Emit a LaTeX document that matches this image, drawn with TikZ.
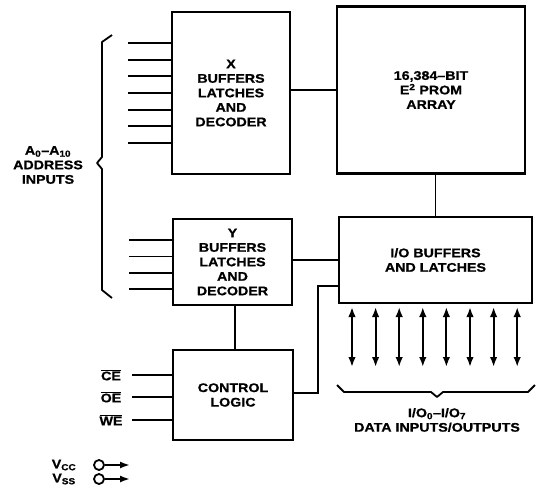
\documentclass[tikz,border=0pt]{standalone}
\usepackage{fontspec}
\setmainfont{Liberation Sans}[FakeStretch=1.14, BoldFeatures={FakeBold=0.8}]
\usetikzlibrary{arrows.meta, calc}
\tikzset{
  lbl/.style={font=\bfseries\fontsize{12.5}{14.5}\selectfont, align=center, inner sep=0pt},
  blockbox/.style={rectangle, draw, line width=2.6pt, lbl},
  wireline/.style={draw, line width=1.8pt},
  pinline/.style={draw, line width=1.8pt},
  braceline/.style={draw, line width=1.8pt, line join=round},
  dataline/.style={
    draw, line width=2pt, {Latex[length=10pt, width=7.5pt]}-{Latex[length=10pt, width=7.5pt]}
  },
  powerline/.style={draw, line width=1.8pt, -{Latex[length=10pt, width=7pt]}},
  pinhole/.style={circle, draw, line width=1.8pt, minimum size=10pt, inner sep=0pt}
}
\begin{document}
\begin{tikzpicture}[x=1pt, y=-1pt]
  \useasboundingbox (0,0) rectangle (542,499);

  \node[blockbox, minimum width=118pt, minimum height=162pt] (xdec) at (231,93)
    {X\\BUFFERS\\LATCHES\\AND\\DECODER};
  \node[blockbox, minimum width=188pt, minimum height=167pt] (array) at (431,90)
    {16,384–BIT\\E\textsuperscript{2} PROM\\ARRAY};
  \node[blockbox, minimum width=119pt, minimum height=86pt] (ydec) at (232.5,262)
    {Y\\BUFFERS\\LATCHES\\AND\\DECODER};
  \node[blockbox, minimum width=193pt, minimum height=86pt] (iobuf) at (435.5,260)
    {I/O BUFFERS\\AND LATCHES};
  \node[blockbox, minimum width=120pt, minimum height=90pt] (ctrl) at (233,395)
    {CONTROL\\LOGIC};

  \node[lbl] (addr) at (48,165) {A\textsubscript{0}–A\textsubscript{10}\\ADDRESS\\INPUTS};
  \node[lbl] (ce) at (111,375) {$\overline{\mbox{CE}}$};
  \node[lbl] (oe) at (111,397) {$\overline{\mbox{OE}}$};
  \node[lbl] (we) at (111,420) {$\overline{\mbox{WE}}$};
  \node[lbl] (dataio) at (437,420) {I/O\textsubscript{0}–I/O\textsubscript{7}\\DATA INPUTS/OUTPUTS};
  \node[lbl] (vcc) at (64,465) {V\textsubscript{CC}};
  \node[lbl] (vss) at (64,479) {V\textsubscript{SS}};
  \node[pinhole] (vccpin) at (99,465) {};
  \node[pinhole] (vsspin) at (99,479) {};
  \coordinate (vccend) at (130,465);
  \coordinate (vssend) at (130,479);
  \coordinate (jog) at (318,286);

  \draw[wireline] (xdec.east |- 0,90) -- (array.west |- 0,90);
  \draw[wireline] (iobuf.north |- array.south) -- (iobuf.north);
  \draw[wireline] (ydec.east |- 0,260) -- (iobuf.west |- 0,260);
  \draw[wireline] (ydec.south -| 235,0) -- (ctrl.north -| 235,0);
  \draw[wireline] (ctrl.east |- 0,393) -| (jog) -- (jog -| iobuf.west);

  \foreach \k in {0,...,6}
    \draw[pinline] ({128},{43+16.67*\k}) -- (xdec.west |- 0,{43+16.67*\k});
  \foreach \k in {0,...,3}
    \draw[pinline] ({129},{240+16.4*\k}) -- (ydec.west |- 0,{240+16.4*\k});
  \draw[pinline] (132,375) -- (ctrl.west |- ce);
  \draw[pinline] (132,397) -- (ctrl.west |- oe);
  \draw[pinline] (132,420) -- (ctrl.west |- we);

  \foreach \k in {0,...,7}
    \draw[dataline] ({352+23.6*\k},307) -- ({352+23.6*\k},367);

  \draw[braceline] (112,35) -- (102,42) -- (102,157) -- (97,163) -- (102,169) -- (102,290) -- (112,298);
  \draw[braceline] (337,385) -- (344,392) -- (431,392) -- (437,397) -- (443,392) -- (528,392) -- (535,385);

  \draw[powerline] (vccpin) -- (vccend);
  \draw[powerline] (vsspin) -- (vssend);
\end{tikzpicture}
\end{document}
